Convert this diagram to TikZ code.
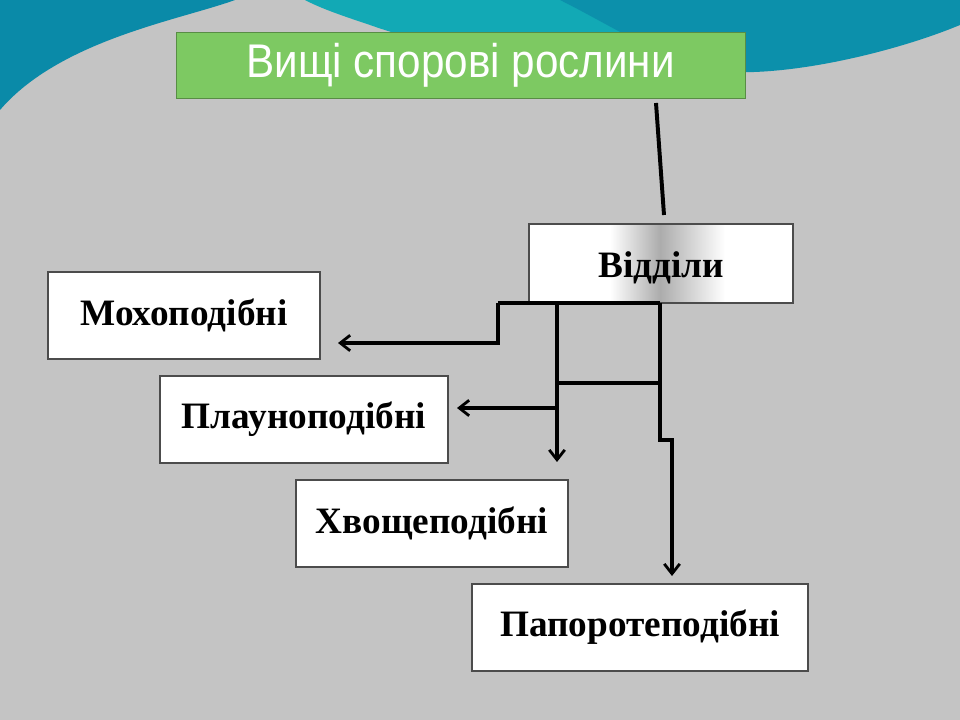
\documentclass[tikz,border=0pt]{standalone}
\usepackage{fontspec}
\setmainfont{Liberation Serif}
\newfontfamily\titlefont{Liberation Sans}
\usetikzlibrary{arrows.meta}
\definecolor{teal1}{HTML}{0A8AA8}
\definecolor{teal2}{HTML}{12A9B5}
\definecolor{hatch}{HTML}{C4C4C4}
\definecolor{green1}{HTML}{7DC962}
\begin{document}
\begin{tikzpicture}[x=0.025cm,y=-0.025cm,
  box/.style={draw=black!70,line width=0.8pt,fill=white,minimum width=#1*0.025cm,minimum height=87*0.025cm,font=\bfseries\fontsize{26.5}{30}\selectfont,inner sep=0pt},
  conn/.style={line width=2.8pt,line join=miter},
  arr/.style={conn,-{Straight Barb[length=7pt,width=11pt,line width=2pt]}}]
\useasboundingbox (0,0) rectangle (960,720);
\fill[hatch] (0,0) rectangle (960,720);
% waves
\fill[teal1] (0,0) -- (235,0) .. controls (180,20) and (60,40) .. (0,110) -- cycle;
\fill[teal2] (305,0) -- (960,0) -- (960,15) .. controls (870,40) and (780,70) .. (700,70) .. controls (560,72) and (440,50) .. (370,25) .. controls (340,15) and (320,8) .. (305,0) -- cycle;
\fill[teal1!80!teal2] (560,0) -- (960,0) -- (960,25) .. controls (900,50) and (800,75) .. (730,72) .. controls (660,60) and (620,30) .. (560,0) -- cycle;
% title
\node[fill=green1,draw=green1!70!black,line width=0.6pt,minimum width=569*0.025cm,minimum height=66*0.025cm,text=white,font=\titlefont\fontsize{30}{34}\selectfont,inner sep=0pt] (title) at (460.5,65) {\raisebox{-3pt}{\scalebox{1}[1.12]{Вищі спорові рослини}}};
% viddily box with gradient
\fill[white] (529,224) rectangle (793,303);
\shade[left color=white,right color=gray!65] (610,224) rectangle (660,303);
\shade[left color=gray!65,right color=white] (660,224) rectangle (725,303);
\node[draw=black!70,line width=0.8pt,minimum width=264*0.025cm,minimum height=79*0.025cm,inner sep=0pt] (vid) at (661,263.5) {};
\node[font=\bfseries\fontsize{26.5}{30}\selectfont] (vidt) at (661,268) {Відділи};
\node[box=272] (moh) at (184,315.5) {Мохоподібні};
\node[box=288] (pla) at (304,419.5) {Плауноподібні};
\node[box=272] (hvo) at (432,523.5) {Хвощеподібні};
\node[box=336] (pap) at (640,627.5) {Папоротеподібні};
% connectors
\coordinate (t1) at (656,103);
\coordinate (t2) at (664,215);
\draw[conn] (t1) -- (t2);
\coordinate (b0) at (498,303);
\coordinate (b1) at (557,303);
\coordinate (b2) at (660,303);
\coordinate (a1) at (338,343);
\coordinate (a2) at (457,408);
\coordinate (a3) at (557,462);
\coordinate (a4) at (672,576);
\draw[conn] (b0) -- (b2);
\draw[arr] (b0) -- (498,343) -- (a1);
\draw[arr] (b1) -- (a3);
\draw[conn] (557,383) -- (660,383);
\draw[arr] (557,408) -- (a2);
\draw[arr] (b2) -- (660,440) -- (672,440) -- (a4);
\end{tikzpicture}
\end{document}
